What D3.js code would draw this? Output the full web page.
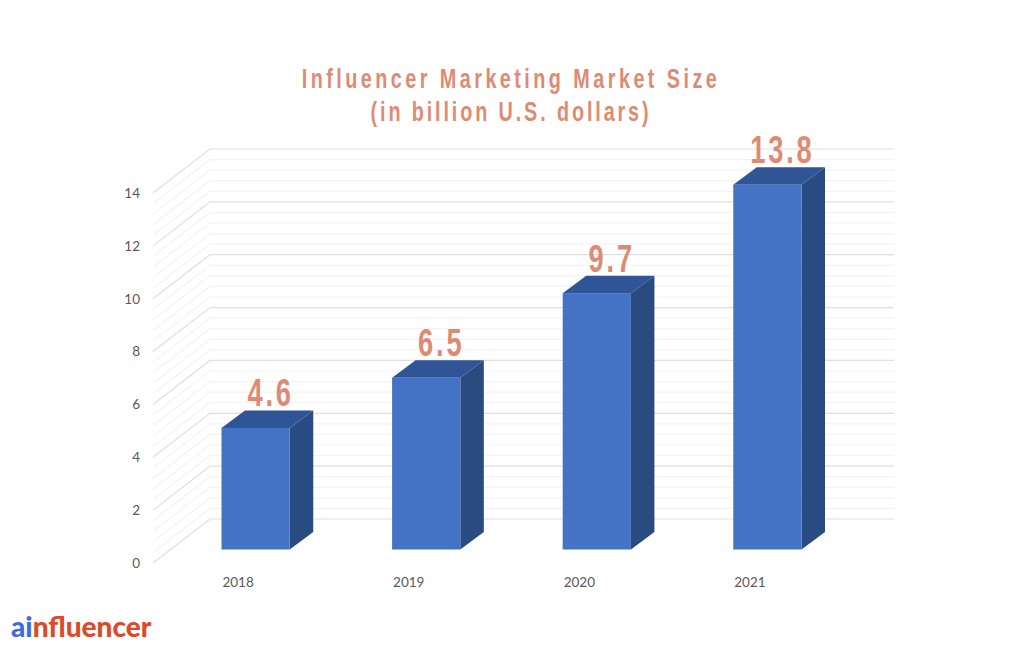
<html>
  <head>
    <script src="https://cdnjs.cloudflare.com/ajax/libs/d3/7.8.5/d3.min.js" charset="utf-8"></script>
    <style type="text/css">
      body { margin: 0; padding: 0; background: #fff; }
      svg { display: block; }
      .tick text { font-family: Lato, sans-serif; font-size: 13.5px; fill: #595959; }
      .title { font-family: "Liberation Sans", sans-serif; font-size: 27.5px; font-weight: 700; fill: #dd8b75; text-anchor: middle; }
      .val { font-family: "Liberation Sans", sans-serif; font-size: 39px; font-weight: 700; fill: #dd8b75; letter-spacing: 4px; text-anchor: middle; }
      .logo { font-family: Lato, sans-serif; font-size: 28px; font-weight: 900; }
    </style>
  </head>
  <body>
    <div id="chart"></div>
    <script type="text/javascript">
      var years = ["2018", "2019", "2020", "2021"];
      var sizes = [4.6, 6.5, 9.7, 13.8];
      var valueLabels = ["4.6", "6.5", "9.7", "13.8"];
      var titleLines = ["Influencer Marketing Market Size", "(in billion U.S. dollars)"];
      var yTicks = [0, 2, 4, 6, 8, 10, 12, 14];

      var svg = d3.select("#chart").append("svg").attr("width", 1024).attr("height", 652);

      // front plane of the 3d box
      var y = d3.scaleLinear().domain([0, 14]).range([563, 193]);
      var x = d3.scaleBand().domain(years).range([221.5, 801.5]).paddingInner(0.6).paddingOuter(0);

      var wallDx = 57, wallDy = -44;   // floor depth
      var barDx = 23.5, barDy = -17.5; // bar depth
      var barLift = -13.5;             // bars stand a bit behind the front edge
      var wallRight = 894;

      // gridlines, minor every 0.4
      var minor = d3.range(0, 14.01, 0.4);
      svg.append("g").selectAll("path").data(minor).enter().append("path")
        .attr("fill", "none")
        .attr("stroke", function (d) { return yTicks.indexOf(Math.round(d * 10) / 10) >= 0 ? "#dfdfdf" : "#f3f3f3"; })
        .attr("stroke-width", 1.2)
        .attr("d", function (d) {
          var p = d3.path();
          p.moveTo(153, y(d));
          p.lineTo(153 + wallDx, y(d) + wallDy);
          p.lineTo(wallRight, y(d) + wallDy);
          return p.toString();
        });

      // bars: front, top, side
      var bars = svg.append("g").selectAll("g").data(years).enter().append("g");
      function bx(i) { return x(years[i]); }
      function by(i) { return y(sizes[i]) + barLift; }
      var w = x.bandwidth();
      var base = y(0) + barLift;

      bars.append("path").attr("fill", "#2a4a82").attr("d", function (d, i) {
        return "M" + (bx(i) + w) + "," + by(i) +
          "L" + (bx(i) + w + barDx) + "," + (by(i) + barDy) +
          "L" + (bx(i) + w + barDx) + "," + (base + barDy) +
          "L" + (bx(i) + w) + "," + base + "Z";
      });
      bars.append("path").attr("fill", "#2f5597").attr("d", function (d, i) {
        return "M" + bx(i) + "," + by(i) +
          "L" + (bx(i) + barDx) + "," + (by(i) + barDy) +
          "L" + (bx(i) + w + barDx) + "," + (by(i) + barDy) +
          "L" + (bx(i) + w) + "," + by(i) + "Z";
      });
      bars.append("rect").attr("fill", "#4472c4")
        .attr("x", function (d, i) { return bx(i); })
        .attr("y", function (d, i) { return by(i); })
        .attr("width", w)
        .attr("height", function (d, i) { return base - by(i); });

      // value labels, squeezed since no condensed font here
      bars.append("text").attr("class", "val")
        .attr("transform", function (d, i) {
          return "translate(" + (bx(i) + w / 2 + 15) + "," + (by(i) + barDy - 4) + ") scale(0.7,1)";
        })
        .text(function (d, i) { return valueLabels[i]; });

      // axes
      var yAxis = d3.axisLeft(y).tickValues(yTicks).tickSize(0).tickPadding(13);
      var gy = svg.append("g").attr("transform", "translate(153,0)").call(yAxis);
      gy.select(".domain").remove();

      var xAxis = d3.axisBottom(x).tickSize(0).tickPadding(0);
      var gx = svg.append("g").attr("transform", "translate(-17.5,577)").call(xAxis);
      gx.select(".domain").remove();

      // title
      svg.selectAll("text.title").data(titleLines).enter().append("text")
        .attr("class", "title")
        .attr("letter-spacing", function (d, i) { return i == 0 ? 4.8 : 4; })
        .attr("transform", function (d, i) { return "translate(511," + (88 + i * 33) + ") scale(0.72,1)"; })
        .text(function (d) { return d; });

      // logo
      var logo = svg.append("text").attr("class", "logo").attr("x", 11).attr("y", 637);
      logo.append("tspan").attr("fill", "#3f6be0").text("ai");
      logo.append("tspan").attr("fill", "#dc4a2c").text("nfluencer");
    </script>
  </body>
</html>
